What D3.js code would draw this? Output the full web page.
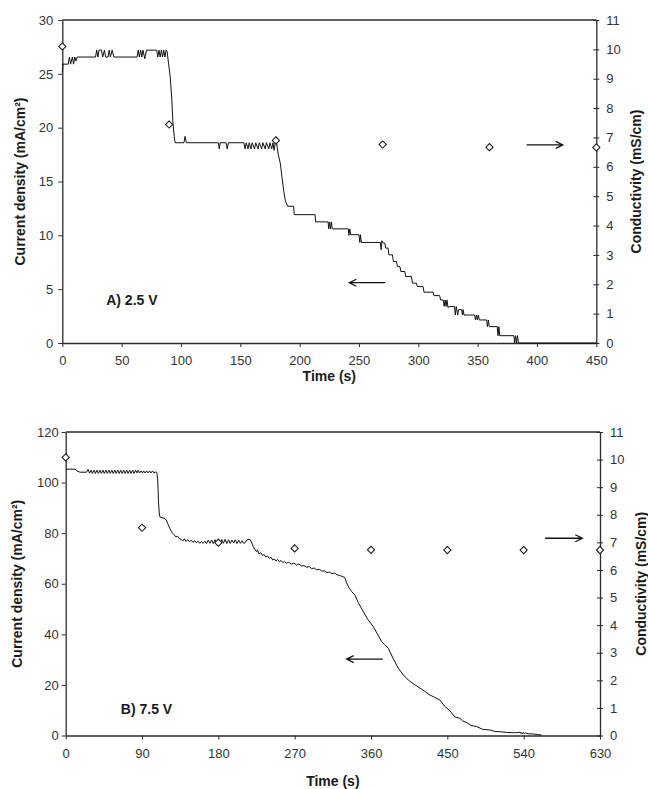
<!DOCTYPE html>
<html><head><meta charset="utf-8">
<script src="https://cdn.jsdelivr.net/npm/d3@7"></script>
<style>
body{margin:0;background:#fff;}
text{font-family:"Liberation Sans",Arial,sans-serif;}
</style></head>
<body>
<script>
// ---------- Panel A (2.5 V) ----------
const timeA = [0,0.5,5,6,7,8.5,9.5,10.5,11.5,12.5,28,29,30,31,33,34,35.5,36.5,38.5,39.5,40.5,42,43.5,
63,64,65,66,67,68,69.5,71,79.5,80.5,81.5,82.5,83.5,84.5,85.5,86.5,87.5,88.3,89.5,90.9,92.3,93.2,94.3,95.1,
102.5,103.5,104.5,131.5,132.3,133,138,139,140,153,154,155,156.5,157.5,159,160,162,163,165,166,168,169,171,172,
174,175,176.5,177.5,178.5,179.5,180.5,182,183.7,185,186.5,188,189.9,194.9,195.5,213,213.5,224,224.5,225.3,226,
226.8,227.5,241,241.5,242.3,243,250,250.7,251.3,252,268,268.7,269.3,270.3,271.8,272.5,274.5,275.2,278.2,279,
281.6,282.4,284.5,285.3,288.6,289.4,294.2,295,298.4,299.2,304,304.8,312.4,313.2,318,318.8,321,321.8,322.6,
323.4,324.2,325,326,330.5,331.2,332,333.2,334,336.5,337.2,337.8,338.5,347.5,348.2,349,349.8,350.6,351.4,357.5,
358.3,359,359.8,366.5,367.2,367.9,368.6,380.5,381.2,382,382.8,383.6,384.4,450];
const currentA = [25.1,25.9,25.9,26.56,25.9,26.56,25.9,26.56,26.2,26.56,26.56,27.2,26.56,27.2,27.2,26.56,27.2,26.56,26.56,27.2,26.56,27.2,26.56,
26.56,27.2,26.56,27.2,26.56,27.2,26.4,27.2,27.2,26.56,27.2,26.56,27.2,26.56,27.2,26.56,27.2,27.1,26.0,24.8,22.6,20.5,19.2,18.6,
18.6,19.2,18.6,18.6,18.03,18.6,18.6,18.03,18.6,18.6,18.03,18.6,18.03,18.6,18.03,18.6,18.03,18.6,18.03,18.6,18.03,18.6,18.03,18.6,
18.03,18.6,18.03,18.6,17.9,18.6,18.6,17.5,16.7,15.5,14.2,13.2,12.7,12.7,11.92,11.92,11.25,11.25,10.6,11.25,10.6,
11.25,10.6,10.6,10.0,10.6,10.06,10.06,9.34,10.06,9.34,9.34,8.66,9.5,9.28,9.28,8.82,8.82,8.19,8.19,7.57,
7.57,7.1,7.1,6.64,6.64,6.17,6.17,5.56,5.56,5.24,5.24,4.72,4.72,4.4,4.4,4.0,4.0,3.4,4.0,
3.4,4.0,3.3,3.38,3.38,2.6,3.38,2.6,3.1,3.1,2.6,3.1,2.6,2.6,2.14,2.6,2.14,2.6,2.14,2.14,
1.52,2.14,1.52,1.52,0.68,1.52,0.68,0.68,0,0.68,0,0.68,0,0];
const condTimeA = [0,90,180,270,360,450];
const condA = [10.1,7.44,6.9,6.76,6.67,6.66];
const xTicksA = [0,50,100,150,200,250,300,350,400,450];
const yTicksA = [0,5,10,15,20,25,30];

// ---------- Panel B (7.5 V) ----------
const timeB = [0,11,13,17,24.6,26.5,28,30,31.5,33.5,35,37,38.5,40.5,42,44,45.5,47.5,49,51,52.5,54.5,56,58,59.5,
61.5,63,65,66.5,68.5,70,72,73.5,75.5,77,79,80.5,82.5,84,85.5,87,89,90.5,92,93.5,95.5,97,99,100.5,102.5,104,106,107.5,
108.5,109.5,110.5,111.5,115,117,118.5,120,122,124,126,128,130,132,134,136,138,140,142,144,146,148,150,152,154,156,
158,160,162,164,166,168,170,172,174,176,178,180,182,184,186,188,190,192,194,196,198,200,202,204,206,208,210,212,
214,217,219,221,223,225,226,228,230,232,234,236,238,240,242,244,246,248,250,252,254,256,258,260,263,266,269,272,
275,278,281,284,287,290,293,296,299,302,305,308,311,314,317,320,323,326,329,331,334,337.2,341,345,350.9,356,362.7,
367,372.6,376,380.4,386,392.2,398,404,411,417.8,424,429.5,435,441.3,447,453,459,464.9,468,472.8,478,484.6,492,
500.3,506,512,520,527.8,532,536,537,538,539,540,541,542,545,551.3,556,561];
const currentB = [105.3,105.3,104.6,104.1,104.1,105.2,103.7,104.9,103.6,104.9,103.6,104.9,103.6,104.9,103.6,104.9,103.6,104.9,103.6,104.9,103.6,104.9,103.6,104.9,103.6,
104.9,103.6,104.9,103.6,104.9,103.6,104.9,103.6,104.9,103.6,104.9,103.6,104.9,103.8,104.9,103.8,104.6,103.8,104.6,103.8,104.6,103.8,104.6,103.8,104.6,103.8,104.2,104.0,
101,92,87.2,86.3,86.0,85.8,85.2,84.0,82.5,81.0,80.0,79.3,78.5,78.8,77.9,77.6,76.9,77.8,76.7,77.4,76.6,77.2,76.4,77.0,76.2,76.8,
76.0,76.6,76.0,76.8,75.9,77.2,76.0,77.3,75.9,77.4,76.0,77.4,75.9,77.5,76.0,77.6,75.9,77.4,75.9,77.3,76.1,77.4,75.9,77.2,76.0,77.0,75.9,76.5,
77.4,77.6,76.5,74.8,73.5,72.7,73.4,71.8,72.3,71.2,71.6,70.6,71.0,70.0,70.5,69.4,69.8,69.0,69.6,68.7,69.2,68.4,68.8,68.1,68.5,67.8,68.2,67.4,
67.8,67.0,67.2,66.5,66.8,66.0,66.2,65.5,65.7,65.0,65.1,64.4,64.6,64.0,64.2,63.5,63.3,62.9,62.5,60.5,58.5,56.9,55.6,52.5,49,46,43,
40.5,37.1,36.0,34.5,30.5,26.6,24.0,21.9,20.2,18.7,17.3,16,15.1,14,11.5,9.8,7.3,6.8,5.8,5.1,4.0,3.5,2.4,
2.2,1.6,1.5,1.2,1.1,1.1,1.3,0.7,1.2,0.7,1.2,0.7,1.0,0.7,0.6,0.4,0.2];
const condTimeB = [0,90,180,270,360,450,540,630];
const condB = [10.08,7.53,6.99,6.78,6.73,6.72,6.72,6.72];
const xTicksB = [0,90,180,270,360,450,540,630];
const yTicksB = [0,20,40,60,80,100,120];

const condTicks = d3.range(0,12);

const W = 648, H = 789;
const svg = d3.select("body").append("svg").attr("width",W).attr("height",H);

function panel(cfg){
  const g = svg.append("g");
  const x = d3.scaleLinear().domain(cfg.xDomain).range([cfg.left, cfg.right]);
  const y = d3.scaleLinear().domain(cfg.yDomain).range([cfg.bottom, cfg.top]);
  const y2 = d3.scaleLinear().domain([0,11]).range([cfg.bottom, cfg.top]);
  const axisColor = "#2a2a2a";

  // top frame
  g.append("line").attr("x1",cfg.left).attr("x2",cfg.right).attr("y1",cfg.top).attr("y2",cfg.top)
    .attr("stroke",axisColor).attr("stroke-width",1.3);

  const styleAxis = (sel) => {
    sel.select(".domain").attr("stroke",axisColor).attr("stroke-width",1.3);
    sel.selectAll(".tick line").attr("stroke",axisColor).attr("stroke-width",1);
    sel.selectAll(".tick text").attr("fill","#333").style("font-size","13px")
      .style("font-family","'Liberation Sans',Arial,sans-serif");
  };

  const ax = g.append("g").attr("transform",`translate(0,${cfg.bottom})`)
    .call(d3.axisBottom(x).tickValues(cfg.xTicks).tickSize(4).tickSizeOuter(0).tickPadding(cfg.xPad));
  styleAxis(ax);
  const ay = g.append("g").attr("transform",`translate(${cfg.left},0)`)
    .call(d3.axisLeft(y).tickValues(cfg.yTicks).tickSize(4).tickSizeOuter(0).tickPadding(cfg.yPad));
  styleAxis(ay);
  const ay2 = g.append("g").attr("transform",`translate(${cfg.right},0)`)
    .call(d3.axisRight(y2).tickValues(condTicks).tickSize(3).tickSizeOuter(0).tickPadding(7));
  styleAxis(ay2);
  ay2.selectAll(".tick line").attr("x1",-3).attr("x2",3);

  // current line
  const pts = cfg.time.map((t,i)=>[t,cfg.current[i]]);
  g.append("path").datum(pts)
    .attr("d", d3.line().x(d=>x(d[0])).y(d=>y(d[1])))
    .attr("fill","none").attr("stroke","#111").attr("stroke-width",1);

  // conductivity diamonds
  const sym = d3.symbol(d3.symbolSquare, 26);
  g.selectAll("path.cond").data(cfg.condTime.map((t,i)=>[t,cfg.cond[i]])).enter()
    .append("path").attr("class","cond")
    .attr("d", sym)
    .attr("transform", d=>`translate(${x(d[0])},${y2(d[1])}) rotate(45)`)
    .attr("fill","#fff").attr("stroke","#111").attr("stroke-width",1);

  // arrows (given in data units)
  cfg.arrows.forEach(a=>{
    const x0 = x(a.from), x1 = x(a.to), yy = y(a.level);
    const dir = Math.sign(x1-x0);
    g.append("path")
      .attr("d", `M${x0},${yy}L${x1},${yy}M${x1-dir*7},${yy-3.5}L${x1},${yy}L${x1-dir*7},${yy+3.5}`)
      .attr("fill","none").attr("stroke","#111").attr("stroke-width",1.3);
  });

  // panel label
  g.append("text").attr("x", x(cfg.label.t)).attr("y", y(cfg.label.v))
    .attr("font-weight","bold").attr("font-size",14).attr("fill","#1a1a1a").text(cfg.label.text);

  // axis titles
  g.append("text").attr("x",(cfg.left+cfg.right)/2).attr("y",cfg.xTitleY)
    .attr("text-anchor","middle").attr("font-weight","bold").attr("font-size",14).attr("fill","#1a1a1a")
    .text("Time (s)");
  g.append("text").attr("transform",`translate(${cfg.yTitleX},${(cfg.top+cfg.bottom)/2}) rotate(-90)`)
    .attr("text-anchor","middle").attr("dy","0.35em").attr("font-weight","bold").attr("font-size",14).attr("fill","#1a1a1a")
    .text("Current density (mA/cm²)");
  g.append("text").attr("transform",`translate(${cfg.y2TitleX},${(cfg.top+cfg.bottom)/2}) rotate(-90)`)
    .attr("text-anchor","middle").attr("dy","0.35em").attr("font-weight","bold").attr("font-size",14).attr("fill","#1a1a1a")
    .text("Conductivity (mS/cm)");
}

panel({
  left:62.3, right:596.3, top:20, bottom:343,
  xDomain:[0,450], yDomain:[0,30],
  xTicks:xTicksA, yTicks:yTicksA, xPad:9, yPad:5,
  time:timeA, current:currentA, condTime:condTimeA, cond:condA,
  arrows:[{from:391.3,to:421.7,level:18.4},{from:272.3,to:241.9,level:5.6}],
  label:{t:37,v:3.55,text:"A) 2.5 V"},
  xTitleY:381, yTitleX:20, y2TitleX:636
});

panel({
  left:65.7, right:600, top:432, bottom:735.5,
  xDomain:[0,630], yDomain:[0,120],
  xTicks:xTicksB, yTicks:yTicksB, xPad:9, yPad:3,
  time:timeB, current:currentB, condTime:condTimeB, cond:condB,
  arrows:[{from:565.1,to:609.1,level:78},{from:373.8,to:331.3,level:30.2}],
  label:{t:65,v:8.5,text:"B) 7.5 V"},
  xTitleY:786, yTitleX:17, y2TitleX:641
});
</script>
</body></html>
